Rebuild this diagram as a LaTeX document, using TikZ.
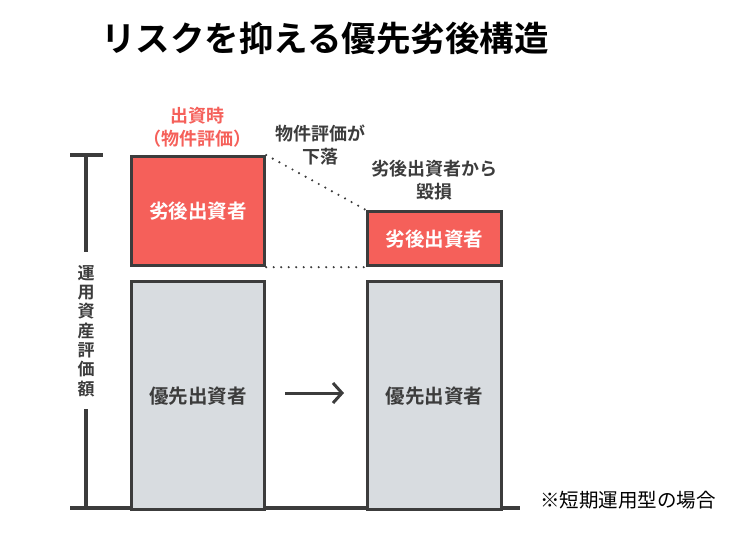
\documentclass[tikz,border=0pt]{standalone}
\usepackage{fontspec}
\newfontfamily\jpfont{Noto Sans CJK JP}
\newfontfamily\jpbold{Noto Sans CJK JP Bold}
\usetikzlibrary{arrows.meta}
\definecolor{subred}{HTML}{F5605A}
\definecolor{seniorgray}{HTML}{D8DCE0}
\definecolor{edgegray}{HTML}{3C3C3C}
\begin{document}
\begin{tikzpicture}[x=1pt,y=-1pt,
	box/.style={draw=edgegray,line width=3.2pt,inner sep=0pt,anchor=north west},
	lbl/.style={text=edgegray,font=\jpbold\fontsize{18}{23.5}\selectfont,align=center}]
		\useasboundingbox (0,0) rectangle (733,538);
		% title
		\node (title) at (325,38) {\jpbold\fontsize{34.5}{38}\selectfont リスクを抑える優先劣後構造};
		% axis
		\draw[edgegray,line width=3.4pt] (70,508) -- (520,508);
		\draw[edgegray,line width=3.4pt] (70,155) -- (103,155);
		\draw[edgegray,line width=3.8pt] (86,155) -- (86,252);
		\draw[edgegray,line width=3.8pt] (86,409) -- (86,508);
		\node[lbl,font=\jpbold\fontsize{17}{19.3}\selectfont] (axis) at (86,331) {運\\用\\資\\産\\評\\価\\額};
		% boxes before
		\node[box,fill=subred,minimum width=133pt,minimum height=109pt] (jr1) at (130,155) {};
		\node[box,fill=seniorgray,minimum width=133pt,minimum height=228pt] (sr1) at (130,280) {};
		% boxes after
		\node[box,fill=subred,minimum width=134pt,minimum height=54pt] (jr2) at (366,210) {};
		\node[box,fill=seniorgray,minimum width=134pt,minimum height=228pt] (sr2) at (366,280) {};
		% texts in boxes
		\node[text=white,font=\jpbold\fontsize{19.5}{22}\selectfont] at (jr1.center) {劣後出資者};
		\node[text=white,font=\jpbold\fontsize{19.5}{22}\selectfont] at (jr2.center) {劣後出資者};
		\node[lbl,font=\jpbold\fontsize{19.5}{22}\selectfont] at ([yshift=-1pt]sr1.center) {優先出資者};
		\node[lbl,font=\jpbold\fontsize{19.5}{22}\selectfont] at ([yshift=-1pt]sr2.center) {優先出資者};
		% dotted guides
		\draw[edgegray,line width=2.4pt,line cap=round,dash pattern=on 0pt off 7.5pt] (jr1.north east) -- (jr2.north west);
		\draw[edgegray,line width=2.4pt,line cap=round,dash pattern=on 0pt off 7.5pt] (jr1.south east) -- (jr2.south west);
		% labels
		\node[lbl,text=subred] (when) at (197,127) {出資時\\（物件評価）};
		\node[lbl] (drop) at (320,145) {物件評価が\\下落};
		\node[lbl] (loss) at (434,180) {劣後出資者から\\毀損};
		% arrow
		\coordinate (a1) at (285,393);
		\coordinate (a2) at (344,393);
		\draw[edgegray,line width=3pt,-{Straight Barb[length=9pt,width=20pt,line width=3pt]}] (a1) -- (a2);
		\node[text=black,font=\jpfont\fontsize{19.5}{22}\selectfont] (note) at (628,500) {※短期運用型の場合};
\end{tikzpicture}
\end{document}
